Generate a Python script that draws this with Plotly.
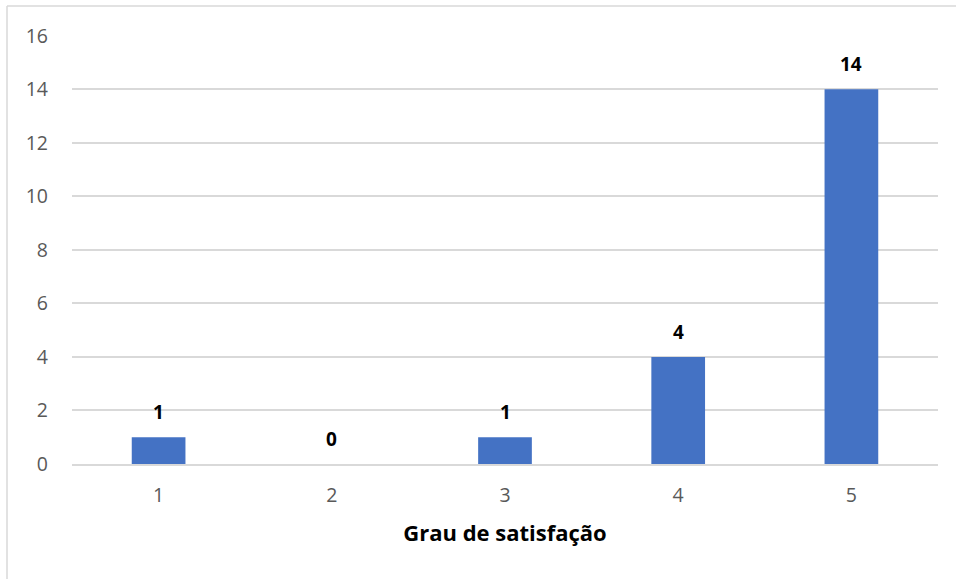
import plotly.graph_objects as go

# Satisfaction survey: number of answers per rating
categorias = [1, 2, 3, 4, 5]
respostas = [1, 0, 1, 4, 14]
ticks_y = [0, 2, 4, 6, 8, 10, 12, 14, 16]

FONT = "Open Sans, sans-serif"
L, R, T, B = 72, 18, 35, 115
W, H = 956, 579
pw, ph = W - L - R, H - T - B

fig = go.Figure()
fig.add_trace(go.Bar(
    x=categorias,
    y=respostas,
    marker=dict(color="#4472C4", line=dict(width=0)),
    width=0.31,
    hoverinfo="x+y",
))

# value labels above each bar
for c, v in zip(categorias, respostas):
    fig.add_annotation(
        x=c, y=v, text=f"<b>{v}</b>", showarrow=False,
        yanchor="middle", yshift=25,
        font=dict(family=FONT, size=19, color="#000000"),
    )

# frame lines (top and left edges of the chart area)
bx = (7 - L) / pw
by = 1 + (T - 6) / ph
fig.add_shape(type="line", xref="paper", yref="paper", x0=bx, x1=bx, y0=by, y1=-1,
              line=dict(color="#d9d9d9", width=1.5))
fig.add_shape(type="line", xref="paper", yref="paper", x0=bx, x1=2, y0=by, y1=by,
              line=dict(color="#d9d9d9", width=1.5))

fig.update_layout(
    width=W, height=H,
    margin=dict(l=L, r=R, t=T, b=B),
    paper_bgcolor="white", plot_bgcolor="white",
    showlegend=False,
    font=dict(family=FONT, size=19.5, color="#595959"),
    xaxis=dict(
        range=[0.5, 5.5], tickvals=categorias,
        showgrid=False, showline=True, linecolor="#d9d9d9", linewidth=1.5,
        ticks="", ticklabelstandoff=13,
        title=dict(text="<b>Grau de satisfação</b>", standoff=18,
                   font=dict(size=22, color="#000000")),
    ),
    yaxis=dict(
        range=[0, 16.03], tickvals=ticks_y, showgrid=True, gridcolor="#d9d9d9",
        gridwidth=1.5, zeroline=False, showline=False, ticks="",
        ticklabelstandoff=23,
    ),
)

fig.write_html("out.html")
